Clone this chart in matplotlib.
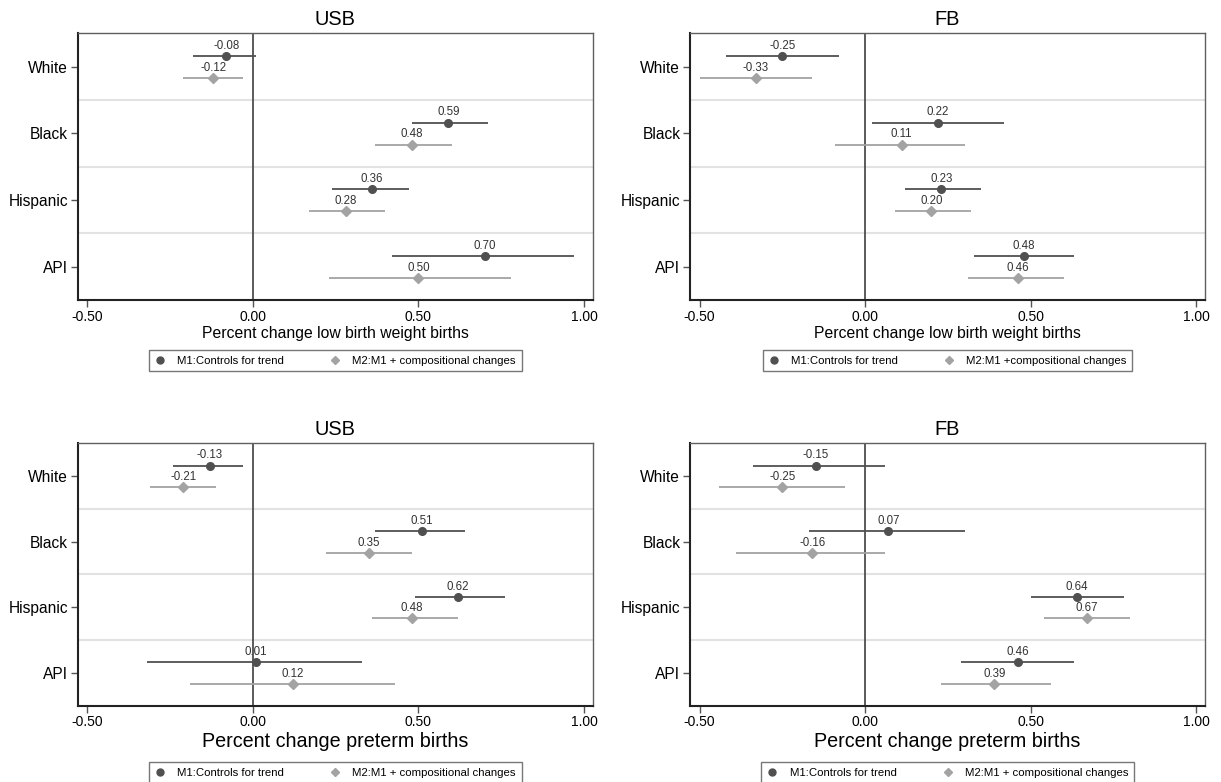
import numpy as np
import matplotlib.pyplot as plt
from matplotlib.lines import Line2D

plt.rcParams['font.family'] = ['Liberation Sans', 'DejaVu Sans']

groups = ['White', 'Black', 'Hispanic', 'API']

# low birth weight, US born
lbw_usb_m1 = [-0.08, 0.59, 0.36, 0.70]
lbw_usb_m1_lo = [-0.18, 0.48, 0.24, 0.42]
lbw_usb_m1_hi = [0.01, 0.71, 0.47, 0.97]
lbw_usb_m2 = [-0.12, 0.48, 0.28, 0.50]
lbw_usb_m2_lo = [-0.21, 0.37, 0.17, 0.23]
lbw_usb_m2_hi = [-0.03, 0.60, 0.40, 0.78]

# low birth weight, foreign born
lbw_fb_m1 = [-0.25, 0.22, 0.23, 0.48]
lbw_fb_m1_lo = [-0.42, 0.02, 0.12, 0.33]
lbw_fb_m1_hi = [-0.08, 0.42, 0.35, 0.63]
lbw_fb_m2 = [-0.33, 0.11, 0.20, 0.46]
lbw_fb_m2_lo = [-0.50, -0.09, 0.09, 0.31]
lbw_fb_m2_hi = [-0.16, 0.30, 0.32, 0.60]

# preterm, US born
pt_usb_m1 = [-0.13, 0.51, 0.62, 0.01]
pt_usb_m1_lo = [-0.24, 0.37, 0.49, -0.32]
pt_usb_m1_hi = [-0.03, 0.64, 0.76, 0.33]
pt_usb_m2 = [-0.21, 0.35, 0.48, 0.12]
pt_usb_m2_lo = [-0.31, 0.22, 0.36, -0.19]
pt_usb_m2_hi = [-0.11, 0.48, 0.62, 0.43]

# preterm, foreign born
pt_fb_m1 = [-0.15, 0.07, 0.64, 0.46]
pt_fb_m1_lo = [-0.34, -0.17, 0.50, 0.29]
pt_fb_m1_hi = [0.06, 0.30, 0.78, 0.63]
pt_fb_m2 = [-0.25, -0.16, 0.67, 0.39]
pt_fb_m2_lo = [-0.44, -0.39, 0.54, 0.23]
pt_fb_m2_hi = [-0.06, 0.06, 0.80, 0.56]

leg_m1 = 'M1:Controls for trend'
leg_m2_a = 'M2:M1 + compositional changes'
leg_m2_b = 'M2:M1 +compositional changes'

c1 = '#505050'
c2 = '#a3a3a3'

fig = plt.figure(figsize=(12.21, 7.82), dpi=100)

def panel(rect, title, xlabel, xlfs, m1, m1lo, m1hi, m2, m2lo, m2hi, m2name, legy):
    ax = fig.add_axes(rect)
    y = np.arange(len(groups))
    for k in [0.5, 1.5, 2.5]:
        ax.axhline(k, color='#e2e2e2', lw=1.5, zorder=0)
    ax.axvline(0, color='#404040', lw=1.2, zorder=1)
    y1 = y - 0.16
    y2 = y + 0.17
    ax.hlines(y1, m1lo, m1hi, color=c1, lw=1.3, zorder=2)
    ax.hlines(y2, m2lo, m2hi, color=c2, lw=1.3, zorder=2)
    ax.plot(m1, y1, 'o', color=c1, ms=5.5, zorder=3)
    ax.plot(m2, y2, 'D', color=c2, ms=5, zorder=3)
    for v, yy in zip(m1, y1):
        ax.text(v, yy - 0.155, '%.2f' % v, ha='center', va='center', fontsize=8.3, color='#333333')
    for v, yy in zip(m2, y2):
        ax.text(v, yy - 0.155, '%.2f' % v, ha='center', va='center', fontsize=8.3, color='#333333')
    ax.set_xlim(-0.529, 1.026)
    ax.set_ylim(3.5, -0.5)
    ax.set_yticks(y)
    ax.set_yticklabels(groups, fontsize=11.2)
    ax.set_xticks([-0.5, 0, 0.5, 1.0])
    ax.set_xticklabels(['-0.50', '0.00', '0.50', '1.00'], fontsize=10)
    ax.tick_params(axis='both', length=5, width=1, color='#555555', pad=2)
    ax.set_title(title, fontsize=14.4, pad=6)
    ax.set_xlabel(xlabel, fontsize=xlfs, labelpad=2)
    for s in ['left', 'bottom']:
        ax.spines[s].set_color('#222222')
        ax.spines[s].set_linewidth(1.5)
    for s in ['top', 'right']:
        ax.spines[s].set_color('#606060')
        ax.spines[s].set_linewidth(1.0)
    handles = [Line2D([], [], marker='o', ls='', color=c1, ms=5),
               Line2D([], [], marker='D', ls='', color=c2, ms=4.5)]
    ax.legend(handles, [leg_m1, m2name], loc='center', bbox_to_anchor=(0.5, legy),
              ncol=2, fontsize=8.2, frameon=True, fancybox=False, edgecolor='#555555',
              handlelength=1.0, handletextpad=1.0, columnspacing=4.0,
              borderpad=0.5, borderaxespad=0)
    return ax

lx, rx, w = 0.0636, 0.5651, 0.4218
panel([lx, 0.6164, w, 0.341], 'USB', 'Percent change low birth weight births', 11.3,
      lbw_usb_m1, lbw_usb_m1_lo, lbw_usb_m1_hi, lbw_usb_m2, lbw_usb_m2_lo, lbw_usb_m2_hi, leg_m2_a, -0.227)
panel([rx, 0.6164, w, 0.341], 'FB', 'Percent change low birth weight births', 11.3,
      lbw_fb_m1, lbw_fb_m1_lo, lbw_fb_m1_hi, lbw_fb_m2, lbw_fb_m2_lo, lbw_fb_m2_hi, leg_m2_b, -0.227)
panel([lx, 0.0976, w, 0.3355], 'USB', 'Percent change preterm births', 14.2,
      pt_usb_m1, pt_usb_m1_lo, pt_usb_m1_hi, pt_usb_m2, pt_usb_m2_lo, pt_usb_m2_hi, leg_m2_a, -0.255)
panel([rx, 0.0976, w, 0.3355], 'FB', 'Percent change preterm births', 14.2,
      pt_fb_m1, pt_fb_m1_lo, pt_fb_m1_hi, pt_fb_m2, pt_fb_m2_lo, pt_fb_m2_hi, leg_m2_a, -0.255)

fig.savefig('out.png', dpi=100)
